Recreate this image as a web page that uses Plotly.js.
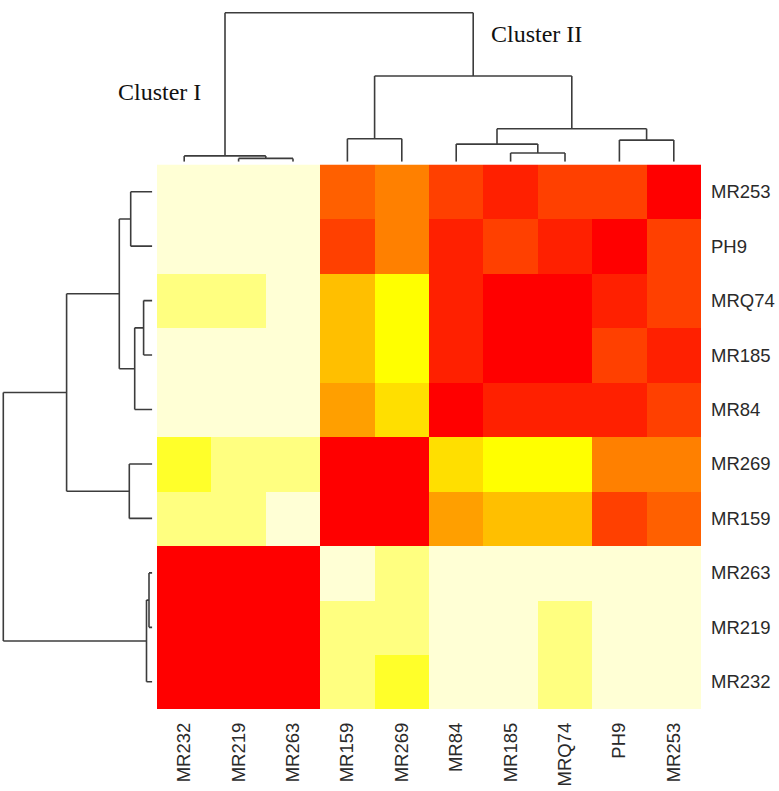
<!DOCTYPE html>
<html>
<head>
<meta charset="utf-8">
<script src="https://cdn.plot.ly/plotly-3.0.1.min.js"></script>
<style>html,body{margin:0;padding:0;background:#fff;}#chart{width:779px;height:791px;}</style>
</head>
<body>
<div id="chart"></div>
<script>
// Leaf order (columns left→right, rows bottom→top)
const labels = ["MR232","MR219","MR263","MR159","MR269","MR84","MR185","MRQ74","PH9","MR253"];

// Similarity level per cell (0 = lowest / cream, 11 = highest / red), rows in labels order
const rowMR232 = [11,11,11, 1, 2, 0, 0, 1, 0, 0];
const rowMR219 = [11,11,11, 1, 1, 0, 0, 1, 0, 0];
const rowMR263 = [11,11,11, 0, 1, 0, 0, 0, 0, 0];
const rowMR159 = [ 1, 1, 0,11,11, 6, 5, 5, 9, 8];
const rowMR269 = [ 2, 1, 1,11,11, 4, 3, 3, 7, 7];
const rowMR84  = [ 0, 0, 0, 6, 4,11,10,10,10, 9];
const rowMR185 = [ 0, 0, 0, 5, 3,10,11,11, 9,10];
const rowMRQ74 = [ 1, 1, 0, 5, 3,10,11,11,10, 9];
const rowPH9   = [ 0, 0, 0, 9, 7,10, 9,10,11, 9];
const rowMR253 = [ 0, 0, 0, 8, 7, 9,10, 9, 9,11];

// heat.colors(12), reversed so level 0 = cream, 11 = red
const heatColors = ["#FFFFD5","#FFFF80","#FFFF2A","#FFFF00","#FFDF00","#FFBF00",
                    "#FF9F00","#FF8000","#FF6000","#FF4000","#FF2000","#FF0000"];

// Hierarchical clustering merges (hclust style: negative = leaf index+1, positive = merge number)
const mergeLeft   = [-2, -1, -7, -6, -9, -4, 4, 6, 2];
const mergeRight  = [-3,  1, -8,  3, -10, -5, 5, 7, 8];
const mergeHeight = [3.3, 5.8, 8.7, 17.6, 21.6, 23.0, 33.0, 85.7, 149.0];

const clusterNames = ["Cluster I", "Cluster II"];

// ---- build heatmap ----
const z = [rowMR232,rowMR219,rowMR263,rowMR159,rowMR269,rowMR84,rowMR185,rowMRQ74,rowPH9,rowMR253];
const n = heatColors.length;
const colorscale = [];
heatColors.forEach((c,i)=>{ colorscale.push([i/n,c]); colorscale.push([(i+1)/n,c]); });

// ---- dendrogram segments ----
function dendro() {
  const pos = [], hgt = [];
  const seg = []; // [p1,h1,p2,h2]
  function get(k){ return k<0 ? [-k-1, 0] : [pos[k-1], hgt[k-1]]; }
  for (let i=0;i<mergeHeight.length;i++){
    const [pl,hl] = get(mergeLeft[i]);
    const [pr,hr] = get(mergeRight[i]);
    const h = mergeHeight[i];
    seg.push([pl,hl,pl,h]); seg.push([pl,h,pr,h]); seg.push([pr,h,pr,hr]);
    pos.push((pl+pr)/2); hgt.push(h);
  }
  const P=[],H=[];
  seg.forEach(s=>{ P.push(s[0],s[2],null); H.push(s[1],s[3],null); });
  return {P,H};
}
const d = dendro();
const lineStyle = {color:"#3c3c3c", width:1.6};

const traces = [
  {type:"heatmap", z:z, x:labels.map((_,i)=>i), y:labels.map((_,i)=>i),
   colorscale:colorscale, zmin:-0.5, zmax:11.5, showscale:false, xaxis:"x", yaxis:"y"},
  {type:"scatter", mode:"lines", x:d.P, y:d.H, line:lineStyle, xaxis:"x2", yaxis:"y2", hoverinfo:"skip", showlegend:false},
  {type:"scatter", mode:"lines", x:d.H, y:d.P, line:lineStyle, xaxis:"x3", yaxis:"y3", hoverinfo:"skip", showlegend:false}
];

const W=779, Hpx=791;
const hx0 = 157/W, hx1 = 701/W;
const hy0 = (Hpx-709)/Hpx, hy1 = (Hpx-164.5)/Hpx;
const tickFont = {family:"Liberation Sans, Arial, sans-serif", size:18.5, color:"#2a2a2a"};
const blank = {showgrid:false, zeroline:false, showline:false, showticklabels:false, ticks:""};
const serif = {family:"Liberation Serif, Times New Roman, serif", size:24, color:"#111"};

const layout = {
  width:W, height:Hpx, margin:{l:0,r:0,t:0,b:0},
  paper_bgcolor:"#fff", plot_bgcolor:"rgba(0,0,0,0)", showlegend:false,
  xaxis:{domain:[hx0,hx1], range:[-0.5,9.5], tickvals:labels.map((_,i)=>i), ticktext:labels,
         tickangle:-90, tickfont:tickFont, ticks:"", ticklabelstandoff:9,
         showgrid:false, zeroline:false, showline:false, fixedrange:true},
  yaxis:{domain:[hy0,hy1], range:[-0.5,9.5], tickvals:labels.map((_,i)=>i), ticktext:labels,
         side:"right", tickfont:tickFont, ticks:"", ticklabelstandoff:9,
         showgrid:false, zeroline:false, showline:false, fixedrange:true},
  xaxis2:Object.assign({domain:[hx0,hx1], range:[-0.5,9.5], anchor:"y2"}, blank),
  yaxis2:Object.assign({domain:[(Hpx-161.7)/Hpx,(Hpx-2)/Hpx], range:[0,159.7], anchor:"x2"}, blank),
  xaxis3:Object.assign({domain:[0,152.3/W], range:[152.3,0], anchor:"y3"}, blank),
  yaxis3:Object.assign({domain:[hy0,hy1], range:[-0.5,9.5], anchor:"x3"}, blank),
  annotations:[
    {text:clusterNames[0], xref:"paper", yref:"paper", x:159/W, y:(Hpx-92)/Hpx,
     xanchor:"center", yanchor:"middle", showarrow:false, font:serif},
    {text:clusterNames[1], xref:"paper", yref:"paper", x:536.5/W, y:(Hpx-34)/Hpx,
     xanchor:"center", yanchor:"middle", showarrow:false, font:serif}
  ]
};

Plotly.newPlot("chart", traces, layout, {displayModeBar:false, staticPlot:true});
</script>
</body>
</html>
